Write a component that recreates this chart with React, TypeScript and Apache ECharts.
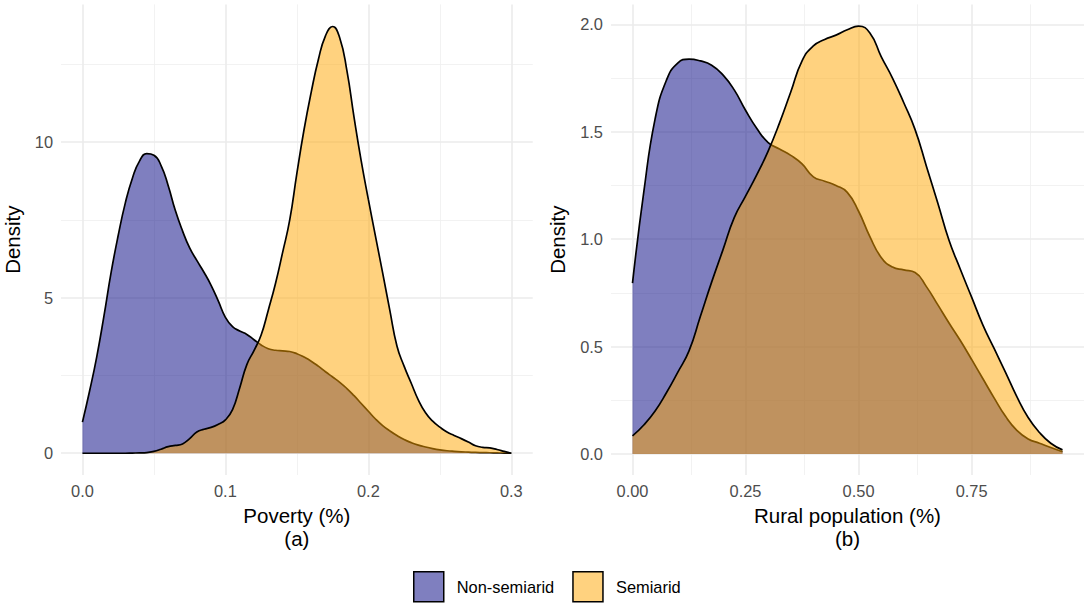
import { useEffect, useRef } from "react";
import * as echarts from "echarts";

// ---------- data ----------
const groups = ["Non-semiarid", "Semiarid"];

const povertyX = [
  0, 0.005, 0.01, 0.015, 0.02, 0.025, 0.03, 0.035, 0.04, 0.045,
  0.05, 0.055, 0.06, 0.065, 0.07, 0.075, 0.08, 0.085, 0.09, 0.095,
  0.1, 0.105, 0.11, 0.115, 0.12, 0.125, 0.13, 0.135, 0.14, 0.145,
  0.15, 0.155, 0.16, 0.165, 0.17, 0.175, 0.18, 0.185, 0.19, 0.195,
  0.2, 0.205, 0.21, 0.215, 0.22, 0.225, 0.23, 0.235, 0.24, 0.245,
  0.25, 0.255, 0.26, 0.265, 0.27, 0.275, 0.28, 0.285, 0.29, 0.295, 0.3,
];
const povertyNonSemiarid = [
  1.0, 2.0, 3.1, 4.4, 5.8, 7.0, 8.05, 8.85, 9.4, 9.63,
  9.58, 9.25, 8.6, 7.8, 7.15, 6.6, 6.2, 5.82, 5.4, 4.9,
  4.37, 4.07, 3.93, 3.82, 3.65, 3.48, 3.36, 3.31, 3.29, 3.27,
  3.2, 3.09, 2.96, 2.8, 2.62, 2.45, 2.28, 2.08, 1.85, 1.6,
  1.35, 1.1, 0.89, 0.72, 0.57, 0.44, 0.34, 0.26, 0.2, 0.15,
  0.11, 0.08, 0.06, 0.045, 0.035, 0.025, 0.02, 0.015, 0.01, 0.005, 0,
];
const povertySemiarid = [
  0, 0, 0, 0, 0, 0, 0, 0.005, 0.01, 0.02,
  0.06, 0.13, 0.21, 0.25, 0.3, 0.47, 0.68, 0.77, 0.83, 0.93,
  1.07, 1.4, 2.1, 2.85, 3.3, 3.8, 4.6, 5.45, 6.45, 7.5,
  9.0, 10.4, 11.6, 12.65, 13.42, 13.72, 13.35, 12.3, 10.8, 9.4,
  8.16, 6.97, 5.8, 4.6, 3.45, 2.8, 2.25, 1.71, 1.3, 1.03,
  0.84, 0.68, 0.57, 0.47, 0.36, 0.24, 0.19, 0.17, 0.12, 0.06, 0,
];

const ruralX = [
  0, 0.025, 0.05, 0.075, 0.1, 0.125, 0.15, 0.175, 0.2, 0.225,
  0.25, 0.275, 0.3, 0.325, 0.35, 0.375, 0.4, 0.425, 0.45, 0.475,
  0.5, 0.525, 0.55, 0.575, 0.6, 0.625, 0.65, 0.675, 0.7, 0.725,
  0.75, 0.775, 0.8, 0.825, 0.85, 0.875, 0.9, 0.925, 0.951,
];
const ruralNonSemiarid = [
  0.795, 1.22, 1.56, 1.74, 1.82, 1.838, 1.83, 1.81, 1.765, 1.695,
  1.6, 1.515, 1.45, 1.42, 1.39, 1.35, 1.29, 1.27, 1.25, 1.218,
  1.13, 1.012, 0.915, 0.87, 0.857, 0.845, 0.779, 0.695, 0.61, 0.528,
  0.44, 0.35, 0.26, 0.175, 0.11, 0.07, 0.05, 0.03, 0.01,
];
const ruralSemiarid = [
  0.084, 0.135, 0.2, 0.285, 0.38, 0.48, 0.64, 0.8, 0.95, 1.1,
  1.2, 1.3, 1.41, 1.54, 1.685, 1.83, 1.9, 1.93, 1.95, 1.975,
  1.992, 1.96, 1.85, 1.75, 1.635, 1.51, 1.34, 1.17, 0.995, 0.86,
  0.73, 0.6, 0.49, 0.38, 0.267, 0.17, 0.1, 0.05, 0.019,
];

const povertyTicks = [0, 0.1, 0.2, 0.3];
const povertyMinor = [0.05, 0.15, 0.25];
const povertyDensityTicks = [0, 5, 10];
const povertyDensityMinor = [2.5, 7.5, 12.5];
const ruralTicks = [0, 0.25, 0.5, 0.75];
const ruralMinor = [0.125, 0.375, 0.625, 0.875];
const ruralDensityTicks = [0, 0.5, 1, 1.5, 2];
const ruralDensityMinor = [0.25, 0.75, 1.25, 1.75];

// ---------- styling ----------
const FONT = "Liberation Sans, Arial, sans-serif";
const NAVY = "rgba(0,0,128,0.5)";
const ORANGE = "rgba(255,165,0,0.5)";
const fills = [NAVY, ORANGE];

const zip = (xs: number[], ys: number[]) => xs.map((x, i) => [x, ys[i]]);

function gridLines(idx: number, xMaj: number[], xMin: number[], yMaj: number[], yMin: number[]) {
  const major = { color: "#EBEBEB", width: 1.6, type: "solid" };
  const minor = { color: "#EFEFEF", width: 0.8, type: "solid" };
  return {
    type: "line",
    xAxisIndex: idx,
    yAxisIndex: idx,
    data: [],
    z: 0,
    silent: true,
    symbol: "none",
    markLine: {
      z: 0,
      silent: true,
      animation: false,
      symbol: ["none", "none"],
      label: { show: false },
      emphasis: { disabled: true },
      data: [
        ...xMin.map((v) => ({ xAxis: v, lineStyle: minor })),
        ...yMin.map((v) => ({ yAxis: v, lineStyle: minor })),
        ...xMaj.map((v) => ({ xAxis: v, lineStyle: major })),
        ...yMaj.map((v) => ({ yAxis: v, lineStyle: major })),
      ],
    },
  };
}

function densitySeries(idx: number, g: number, xs: number[], ys: number[]) {
  return {
    name: groups[g],
    type: "line",
    xAxisIndex: idx,
    yAxisIndex: idx,
    data: zip(xs, ys),
    symbol: "none",
    showSymbol: false,
    smooth: 0.5,
    z: 2 + g,
    lineStyle: { color: "#000", width: 1.7 },
    itemStyle: { color: fills[g] },
    areaStyle: { color: fills[g], opacity: 1 },
  };
}

const tickLabel = (vals: number[], digits: number, extra: any = {}) => ({
  customValues: vals,
  formatter: (v: number) => (digits < 0 ? String(Math.round(v)) : Number(v).toFixed(digits)),
  color: "#4D4D4D",
  fontSize: 16.4,
  fontFamily: FONT,
  ...extra,
});

const hidden = {
  splitLine: { show: false },
  axisLine: { show: false },
  axisTick: { show: false },
};

export default function App() {
  const ref = useRef<HTMLDivElement>(null);

  useEffect(() => {
    document.body.style.margin = "0";
    if (!ref.current) return;
    const chart = echarts.init(ref.current, undefined, { renderer: "svg" });
    const nameStyle = { fontSize: 20.5, color: "#000", fontFamily: FONT, lineHeight: 23 };
    chart.setOption({
      animation: false,
      backgroundColor: "#fff",
      textStyle: { fontFamily: FONT },
      grid: [
        { left: 54.25, top: 4.4, width: 478.5, height: 470.6 },
        { left: 611, top: 4.4, width: 473, height: 470.6 },
      ],
      xAxis: [
        {
          gridIndex: 0, type: "value", min: -0.015, max: 0.315, ...hidden,
          axisLabel: tickLabel(povertyTicks, 1, { margin: 8 }),
          name: "Poverty (%)\n(a)", nameLocation: "middle", nameGap: 27, nameTextStyle: nameStyle,
        },
        {
          gridIndex: 1, type: "value", min: -0.04755, max: 0.99855, ...hidden,
          axisLabel: tickLabel(ruralTicks, 2, { margin: 8 }),
          name: "Rural population (%)\n(b)", nameLocation: "middle", nameGap: 27, nameTextStyle: nameStyle,
        },
      ],
      yAxis: [
        {
          gridIndex: 0, type: "value", min: -0.7, max: 14.43, ...hidden,
          axisLabel: tickLabel(povertyDensityTicks, -1, { margin: 8 }),
          name: "Density", nameLocation: "middle", nameGap: 37, nameTextStyle: nameStyle,
        },
        {
          gridIndex: 1, type: "value", min: -0.098, max: 2.093, ...hidden,
          axisLabel: tickLabel(ruralDensityTicks, 1, { margin: 8 }),
          name: "Density", nameLocation: "middle", nameGap: 42, nameTextStyle: nameStyle,
        },
      ],
      legend: {
        left: 413,
        top: 571,
        padding: 0,
        itemWidth: 30,
        itemHeight: 30,
        itemGap: 18,
        icon: "rect",
        selectedMode: false,
        textStyle: { fontSize: 16.4, color: "#000", fontFamily: FONT, padding: [0, 0, 0, 8] },
        data: groups.map((g, i) => ({
          name: g,
          itemStyle: { color: fills[i], borderColor: "#000", borderWidth: 1.5 },
        })),
      },
      series: [
        gridLines(0, povertyTicks, povertyMinor, povertyDensityTicks, povertyDensityMinor),
        gridLines(1, ruralTicks, ruralMinor, ruralDensityTicks, ruralDensityMinor),
        densitySeries(0, 0, povertyX, povertyNonSemiarid),
        densitySeries(0, 1, povertyX, povertySemiarid),
        densitySeries(1, 0, ruralX, ruralNonSemiarid),
        densitySeries(1, 1, ruralX, ruralSemiarid),
      ],
    });
    return () => chart.dispose();
  }, []);

  return <div ref={ref} style={{ width: 1086, height: 603 }} />;
}
